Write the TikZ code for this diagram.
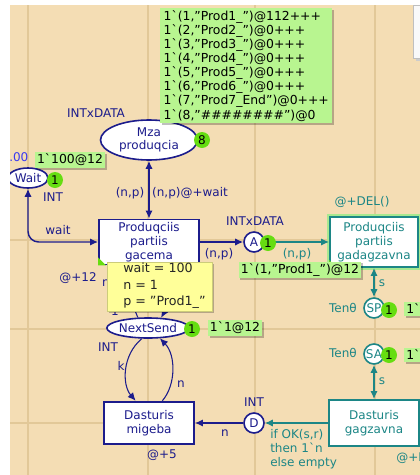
\documentclass[tikz,border=0pt]{standalone}
\usepackage{fontspec}
\setmainfont{DejaVu Sans}
\usetikzlibrary{shapes.geometric, arrows.meta, shadows, positioning}
\definecolor{cpnbg}{HTML}{F4DDB4}
\definecolor{cpngrid}{HTML}{E2C898}
\definecolor{cpnnavy}{HTML}{1C1C8C}
\definecolor{cpnteal}{HTML}{1C8686}
\definecolor{tokgreen}{HTML}{66DD11}
\definecolor{markgreen}{HTML}{B8F590}
\definecolor{glowgreen}{HTML}{A8E890}
\definecolor{bindyellow}{HTML}{FFFF99}
\definecolor{timeblue}{HTML}{3A3AF0}
\newcommand{\bq}{\textasciigrave}
\tikzset{>={Latex[length=6pt,width=5.5pt]}}
\tikzset{
  place/.style={ellipse, draw=cpnnavy, line width=1.2pt, fill=white, text=cpnnavy, inner sep=0pt},
  tplace/.style={place, draw=cpnteal, text=cpnteal},
  trans/.style={rectangle, draw=cpnnavy, line width=1.4pt, fill=white, text=cpnnavy,
    align=center, inner sep=0pt},
  ttrans/.style={trans, draw=cpnteal, text=cpnteal},
  token/.style={circle, fill=tokgreen, text=black, inner sep=0pt, minimum size=12pt},
  marking/.style={fill=markgreen, text=black, inner sep=1.5pt, align=left,
    font=\fontsize{9.3}{10.6}\selectfont,
    drop shadow={shadow xshift=1.2pt, shadow yshift=-1.2pt, fill=black, opacity=0.25}},
  arc/.style={draw=cpnnavy, line width=1.1pt},
  tarc/.style={draw=cpnteal, line width=1.1pt},
  thinarc/.style={draw=cpnnavy, line width=0.8pt},
  lbl/.style={text=cpnnavy, inner sep=0pt},
  tlbl/.style={text=cpnteal, inner sep=0pt}
}

\begin{document}
\begin{tikzpicture}[x=0.75pt, y=-0.75pt, font=\fontsize{9}{10.5}\selectfont]
\useasboundingbox (0,0) rectangle (420,475);
\clip (0,0) rectangle (420,475);
\fill[cpnbg] (0,0) rectangle (420,475);
\foreach \x in {28,148,255,375}
  \draw[cpngrid, line width=1pt] (\x,0) -- (\x,475);
\foreach \y in {240,329,423}
  \draw[cpngrid, line width=1pt] (0,\y) -- (420,\y);

% places
\node[place, minimum width=72.75pt, minimum height=30pt, align=center,
  font=\fontsize{9}{9.75}\selectfont] (mza) at (149,140) {Mza\\produqcia};
\node[place, minimum width=30pt, minimum height=15pt] (wait) at (28,178) {Wait};
\node[place, minimum width=56pt, minimum height=15pt] (next) at (148,328) {NextSend};
\node[place, circle, minimum size=15pt] (A) at (254,242) {A};
\node[place, circle, minimum size=15pt] (D) at (254,423) {D};
\node[tplace, circle, minimum size=15pt] (SP) at (374,308) {SP};
\node[tplace, circle, minimum size=15pt] (SA) at (374,354) {SA};

% transitions
\node[trans, minimum width=75pt, minimum height=33.75pt] (gacema) at (149,242)
  {Produqciis\\partiis\\gacema};
\node[ttrans, minimum width=66pt, minimum height=37.5pt,
  preaction={draw=glowgreen, line width=4pt}] (gadag) at (374,242)
  {Produqciis\\partiis\\gadagzavna};
\node[trans, minimum width=67.5pt, minimum height=32pt] (migeba) at (149,423)
  {Dasturis\\migeba};
\node[ttrans, minimum width=67pt, minimum height=34.5pt] (gagz) at (374,423)
  {Dasturis\\gagzavna};
\fill[tokgreen] (gacema.south west) -- ++(8,0) -- ++(-8,-8) -- cycle;
\fill[tokgreen] (gadag.south west) -- ++(8,0) -- ++(-8,-8) -- cycle;

% arcs
\draw[arc, <->] (mza) -- (gacema);
\draw[arc, <->, rounded corners=8pt] (wait) |- (gacema);
\draw[arc, ->] (gacema) -- (A);
\draw[tarc, ->] (A) -- (gadag);
\draw[tarc, <->] (gadag) -- (SP);
\draw[tarc, <->] (SA) -- (gagz);
\draw[tarc, ->] (gagz) -- (D);
\draw[arc, ->] (D) -- (migeba);
\draw[thinarc, ->] (next.240) .. controls (122,355) and (122,385) .. (migeba.121);
\draw[thinarc, ->] (migeba.59) .. controls (176,385) and (176,355) .. (next.-41);
\draw[thinarc, ->] (next.134) .. controls (130,300) and (128,282) .. (gacema.-122);
\draw[thinarc, ->] (gacema.-58) .. controls (170,285) and (168,305) .. (next.38);

% inscriptions
\node[lbl] (mzatype) at (96,113) {INTxDATA};
\node[text=timeblue, anchor=west, inner sep=0pt] (waittime) at (9,157) {.00};
\node[lbl] (waittype) at (53,197) {INT};
\node[lbl] (waitarc) at (58,230) {wait};
\node[lbl] (mzain) at (130,193) {(n,p)};
\node[lbl] (mzaout) at (190,193) {(n,p)@+wait};
\node[lbl] (Atype) at (255,221) {INTxDATA};
\node[lbl] (Ain) at (219,254) {(n,p)};
\node[tlbl] (Aout) at (297,254) {(n,p)};
\node[tlbl] (gadagtime) at (362,202) {@+DEL()};
\node[lbl] (gacematime) at (78,278) {@+12};
\node[lbl] (nextin) at (106,283) {n};
\node[lbl] (nextone) at (115,311) {1};
\node[lbl] (nexttype) at (108,347) {INT};
\node[lbl] (karc) at (121,366) {k};
\node[lbl] (narc) at (181,384) {n};
\node[tlbl] (SPtype) at (343,308) {Tenθ};
\node[tlbl] (SAtype) at (343,353) {Tenθ};
\node[tlbl] (SParc) at (382,283) {s};
\node[tlbl] (SAarc) at (382,381) {s};
\node[lbl] (Dtype) at (254,402) {INT};
\node[lbl] (Darc) at (225,433) {n};
\node[tlbl, anchor=north west, align=left] (okarc) at (270,429)
  {if OK(s,r)\\then 1\bq n\\else empty};
\node[lbl] (migebatime) at (162,455) {@+5};
\node[tlbl, anchor=west] (gagztime) at (396,458) {@+DEL()};

% tokens and markings
\node[token] (mzatok) at (202,140) {8};
\node[token] (waittok) at (55,180) {1};
\node[token] (Atok) at (268,243) {1};
\node[token] (nexttok) at (192,329) {1};
\node[token] (SPtok) at (389,310) {1};
\node[token] (SAtok) at (389,355) {1};
\node[marking, anchor=north west, minimum width=129pt] (mzamark) at (160,8)
  {1\bq(1,"Prod1\_")@112+++\\
   1\bq(2,"Prod2\_")@0+++\\
   1\bq(3,"Prod3\_")@0+++\\
   1\bq(4,"Prod4\_")@0+++\\
   1\bq(5,"Prod5\_")@0+++\\
   1\bq(6,"Prod6\_")@0+++\\
   1\bq(7,"Prod7\_End")@0+++\\
   1\bq(8,"\#\#\#\#\#\#\#\#")@0};
\node[marking] (waitmark) at (70,160) {1\bq 100@12};
\node[marking] (Amark) at (300,270) {1\bq(1,"Prod1\_")@12};
\node[marking] (nextmark) at (235,328) {1\bq 1@12};
\node[marking, anchor=west, text width=30pt] (SPmark) at (404,309) {1\bq};
\node[marking, anchor=west, text width=30pt] (SAmark) at (404,355) {1\bq};

% binding
\node[anchor=north west, fill=bindyellow, draw=bindyellow!80!black, line width=0.4pt,
  minimum width=78.75pt, minimum height=36.75pt,
  drop shadow={shadow xshift=1.2pt, shadow yshift=-1.2pt, fill=black, opacity=0.25}]
  (binding) at (107,262) {};
\node[anchor=north west, align=left, inner sep=0pt, text=black!85,
  font=\fontsize{9.5}{12.4}\selectfont] (bindtext) at (123,263)
  {wait = 100\\n = 1\\p = "Prod1\_"};

% window edges
\fill[black!20] (416,8) rectangle (421,61);
\filldraw[fill=white!95!gray, draw=gray!50] (413,5) rectangle (421,58);
\fill[white] (0,0) rectangle (10,475);
\fill[white] (0,0) rectangle (420,5);
\end{tikzpicture}
\end{document}
